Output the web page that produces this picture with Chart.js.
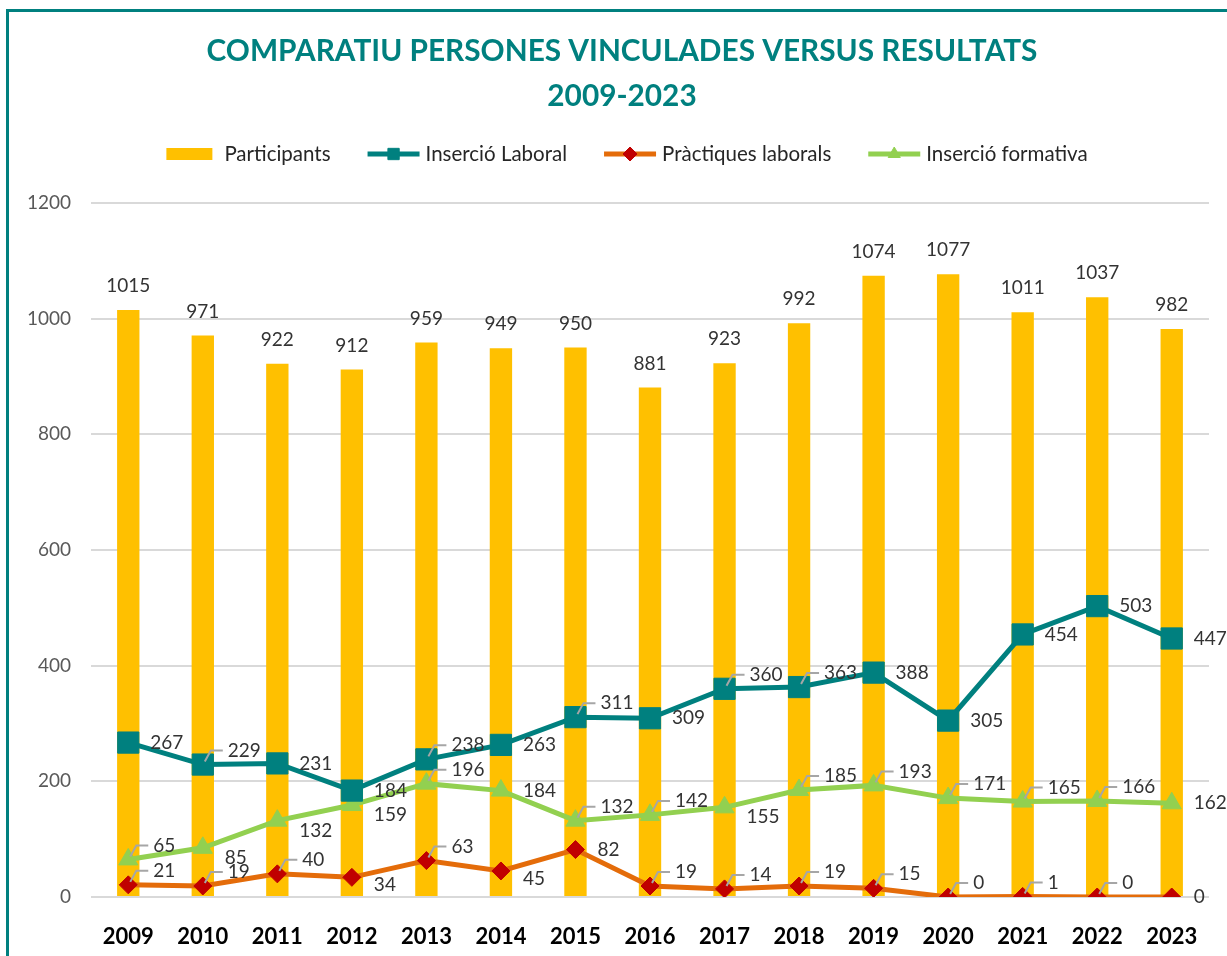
<!DOCTYPE html>
<html>
<head>
<meta charset="utf-8">
<title>Comparatiu persones vinculades versus resultats</title>
<script src="https://cdn.jsdelivr.net/npm/chart.js@4.4.1/dist/chart.umd.min.js"></script>
<style>
  html, body { margin: 0; padding: 0; background: #fff; overflow: hidden; }
  #marc { position: absolute; left: 6px; top: 9px; width: 1300px; height: 1000px; border: 3px solid #00807f; box-sizing: border-box; }
  #caixa { position: absolute; left: 0; top: 0; width: 1227px; height: 956px; }
</style>
</head>
<body>
<div id="marc"></div>
<div id="caixa"><canvas id="grafic" width="1227" height="956"></canvas></div>
<script>
const anys = ['2009', '2010', '2011', '2012', '2013', '2014', '2015', '2016', '2017', '2018', '2019', '2020', '2021', '2022', '2023'];
const participants = [1015, 971, 922, 912, 959, 949, 950, 881, 923, 992, 1074, 1077, 1011, 1037, 982];
const insercioLaboral = [267, 229, 231, 184, 238, 263, 311, 309, 360, 363, 388, 305, 454, 503, 447];
const practiquesLaborals = [21, 19, 40, 34, 63, 45, 82, 19, 14, 19, 15, 0, 1, 0, 0];
const insercioFormativa = [65, 85, 132, 159, 196, 184, 132, 142, 155, 185, 193, 171, 165, 166, 162];
const titol = ['COMPARATIU PERSONES VINCULADES VERSUS RESULTATS', '2009-2023'];

const TEAL = '#00807f';
const GROC = '#ffc000';
const TARONJA = '#e46c0a';
const VERMELL = '#c00000';
const VERD = '#92d050';

// etiquetes de valor (com les de l'Excel, amb línies guia quan la línia és plana)
const etiquetesValors = {
    id: 'etiquetesValors',
    afterDatasetsDraw(chart) {
        const ctx = chart.ctx;
        ctx.save();
        ctx.font = '19px Lato';
        ctx.textBaseline = 'middle';
        chart.data.datasets.forEach((ds, i) => {
            const meta = chart.getDatasetMeta(i);
            const punts = meta.data;
            punts.forEach((el, j) => {
                const v = ds.data[j];
                ctx.fillStyle = '#333333';
                if (ds.type === 'bar') {
                    ctx.textAlign = 'center';
                    ctx.fillText(v, el.x, el.y - 24);
                    return;
                }
                ctx.textAlign = 'left';
                const seg = punts[j + 1];
                const dy = seg ? seg.y - el.y : 99;
                if (seg && Math.abs(dy) < 15) {
                    // etiqueta aixecada amb línia guia
                    ctx.strokeStyle = '#a6a6a6';
                    ctx.lineWidth = 2;
                    ctx.beginPath();
                    ctx.moveTo(el.x + 2, el.y - 3);
                    ctx.lineTo(el.x + 8, el.y - 14);
                    ctx.lineTo(el.x + 20, el.y - 14);
                    ctx.stroke();
                    ctx.fillText(v, el.x + 25, el.y - 14);
                } else if (seg && dy < 0) {
                    ctx.fillText(v, el.x + 22, el.y + (ds.baixada || 0));
                } else {
                    ctx.fillText(v, el.x + 22, el.y);
                }
            });
        });
        ctx.restore();
    }
};

// llegenda dibuixada a mà (línia + marcador)
const llegenda = {
    id: 'llegenda',
    afterLayout(chart) {
        // el gràfic original continua més enllà de la vora dreta
        chart.titleBlock.left = 35;
    },
    afterDraw(chart) {
        const ctx = chart.ctx;
        const items = [
            { text: 'Participants', tipus: 'caixa', color: GROC },
            { text: 'Inserció Laboral', tipus: 'linia', color: TEAL, marca: 'rect', colorMarca: TEAL, r: 8 },
            { text: 'Pràctiques laborals', tipus: 'linia', color: TARONJA, marca: 'rectRot', colorMarca: VERMELL, r: 7 },
            { text: 'Inserció formativa', tipus: 'linia', color: VERD, marca: 'triangle', colorMarca: VERD, r: 7 }
        ];
        ctx.save();
        ctx.font = '20.5px Lato';
        const simbol = 52, sep = 6, espai = 37;
        let total = 0;
        items.forEach((it, k) => {
            it.w = ctx.measureText(it.text).width;
            total += simbol + sep + it.w + (k > 0 ? espai : 0);
        });
        const tb = chart.titleBlock;
        let x = (tb.left + tb.right) / 2 + 5 - total / 2;
        const y = 154;
        items.forEach(it => {
            if (it.tipus === 'caixa') {
                ctx.fillStyle = it.color;
                ctx.fillRect(x, y - 6, simbol - 6, 12);
            } else {
                ctx.strokeStyle = it.color;
                ctx.lineWidth = 5;
                ctx.beginPath();
                ctx.moveTo(x, y);
                ctx.lineTo(x + simbol, y);
                ctx.stroke();
                ctx.fillStyle = it.colorMarca;
                ctx.strokeStyle = it.colorMarca;
                ctx.lineWidth = 1;
                Chart.helpers.drawPoint(ctx, { pointStyle: it.marca, radius: it.r, rotation: 0, borderWidth: 1 }, x + simbol / 2, y);
            }
            ctx.fillStyle = '#262626';
            ctx.textAlign = 'left';
            ctx.textBaseline = 'middle';
            ctx.fillText(it.text, x + simbol + sep, y);
            x += simbol + sep + it.w + espai;
        });
        ctx.restore();
    }
};

function inicialitzarGrafic() {
    const ctx = document.getElementById('grafic').getContext('2d');
    new Chart(ctx, {
        data: {
            labels: anys,
            datasets: [
                {
                    type: 'bar',
                    label: 'Participants',
                    data: participants,
                    backgroundColor: GROC,
                    barPercentage: 0.3,
                    categoryPercentage: 1,
                    order: 4
                },
                {
                    type: 'line',
                    label: 'Inserció Laboral',
                    data: insercioLaboral,
                    borderColor: TEAL,
                    backgroundColor: TEAL,
                    borderWidth: 5,
                    pointStyle: 'rect',
                    pointRadius: 15,
                    pointBorderWidth: 1,
                    baixada: 0,
                    order: 1
                },
                {
                    type: 'line',
                    label: 'Pràctiques laborals',
                    data: practiquesLaborals,
                    borderColor: TARONJA,
                    backgroundColor: VERMELL,
                    pointBorderColor: VERMELL,
                    borderWidth: 5,
                    pointStyle: 'rectRot',
                    pointRadius: 9,
                    pointBorderWidth: 1,
                    baixada: 8,
                    order: 3
                },
                {
                    type: 'line',
                    label: 'Inserció formativa',
                    data: insercioFormativa,
                    borderColor: VERD,
                    backgroundColor: VERD,
                    borderWidth: 5,
                    pointStyle: 'triangle',
                    pointRadius: 11,
                    pointBorderWidth: 1,
                    baixada: 10,
                    order: 2
                }
            ]
        },
        options: {
            responsive: false,
            animation: false,
            layout: { padding: { left: 15, right: 18, top: 0, bottom: 0 } },
            plugins: {
                legend: { display: false },
                tooltip: { enabled: false },
                title: {
                    display: true,
                    text: titol,
                    color: TEAL,
                    font: { family: 'Lato', size: 29.8, weight: 'bold', lineHeight: 45 / 29.8 },
                    padding: { top: 29, bottom: 84 }
                }
            },
            scales: {
                x: {
                    grid: { display: false },
                    border: { display: false },
                    ticks: {
                        color: '#000000',
                        font: { family: 'Lato', size: 22, weight: 'bold' },
                        padding: 19
                    },
                    afterFit: (s) => { s.height = 59; }
                },
                y: {
                    min: 0,
                    max: 1200,
                    grid: { color: '#d9d9d9', lineWidth: 2, drawTicks: false },
                    border: { display: false },
                    ticks: {
                        stepSize: 200,
                        color: '#595959',
                        font: { family: 'Lato', size: 19 },
                        padding: 20,
                        callback: (v) => String(v)
                    },
                    afterFit: (s) => { s.width = 76; }
                }
            }
        },
        plugins: [etiquetesValors, llegenda]
    });
}

document.addEventListener('DOMContentLoaded', function() {
    inicialitzarGrafic();
});
</script>
</body>
</html>
